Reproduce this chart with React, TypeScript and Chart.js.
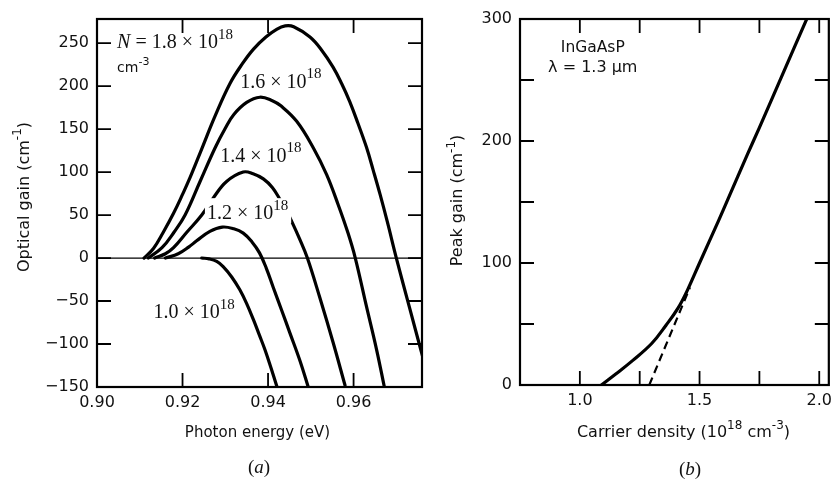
import React, { useEffect, useRef } from "react";
import { Chart, registerables } from "chart.js";

Chart.register(...registerables);
Chart.defaults.font.family = "'DejaVu Sans', 'Liberation Sans', sans-serif";

// ---------- Panel (a): optical gain vs photon energy ----------
const energy18 = [0.9110, 0.9132, 0.9155, 0.9179, 0.9200, 0.9218, 0.9245, 0.9276, 0.9311, 0.9340, 0.9366, 0.9395, 0.9420, 0.9440, 0.9460, 0.9498, 0.9525, 0.9552, 0.9572, 0.9591, 0.9610, 0.9630, 0.9646, 0.9662, 0.9679, 0.9700, 0.9731, 0.9759, 0.9765];
const gain18 = [0, 11, 30, 52, 74, 94, 127, 165, 203, 226, 243, 257, 266, 270, 269, 257, 242, 222, 203, 182, 157, 129, 102, 74, 42, 0, -58, -110, -121];

const energy16 = [0.9120, 0.9152, 0.9180, 0.9206, 0.9241, 0.9276, 0.9300, 0.9320, 0.9350, 0.9381, 0.9410, 0.9430, 0.9467, 0.9506, 0.9537, 0.9564, 0.9587, 0.9604, 0.9630, 0.9654, 0.9672];
const gain16 = [0, 12, 30, 50, 89, 128, 151, 167, 181, 187, 183, 177, 159, 128, 97, 62, 29, 0, -56, -107, -150];

const energy14 = [0.9135, 0.9160, 0.9179, 0.9210, 0.9245, 0.9272, 0.9303, 0.9342, 0.9365, 0.9389, 0.9410, 0.9428, 0.9441, 0.9455, 0.9474, 0.9492, 0.9521, 0.9552, 0.9580];
const gain14 = [0, 5, 12, 30, 50, 70, 89, 100, 98, 92, 82, 68, 57, 43, 22, 0, -46, -98, -148];

const energy12 = [0.9160, 0.9190, 0.9215, 0.9233, 0.9264, 0.9293, 0.9320, 0.9342, 0.9362, 0.9380, 0.9396, 0.9412, 0.9432, 0.9451, 0.9475, 0.9494];
const gain12 = [0, 5, 13, 20, 31, 36, 34, 29, 19, 6, -12, -34, -61, -87, -120, -150];

const energy10 = [0.9245, 0.9262, 0.9280, 0.9295, 0.9315, 0.9334, 0.9350, 0.9366, 0.9380, 0.9393, 0.9407, 0.9421];
const gain10 = [0, -1, -4, -10, -22, -37, -53, -72, -90, -107, -128, -150];

const zeroLineEnergy = [0.9, 0.976];
const zeroLineGain = [0, 0];

const densityLabels = ["1.8", "1.6", "1.4", "1.2", "1.0"];
// label anchor in data coordinates (left edge, vertical centre)
const densityLabelAnchors = [
  [0.9047, 250],
  [0.9335, 204],
  [0.9288, 118],
  [0.9257, 51],
  [0.9132, -64],
];
// the 1.2 label is typeset over (and interrupts) the 1.4 curve
const densityLabelMasks = [false, false, false, true, false];

// ---------- Panel (b): peak gain vs carrier density ----------
const densitySolid = [1.09, 1.15, 1.22, 1.30, 1.36, 1.41, 1.45, 1.50, 1.58, 1.62, 1.70, 1.75, 1.85, 1.95];
const peakGainSolid = [0, 9, 20, 34, 49, 63, 78, 100, 135, 153, 189, 211, 256, 301];
const densityDashed = [1.29, 1.46];
const peakGainDashed = [0, 80];

type Part = { t: string; sup?: boolean; it?: boolean };

const SANS = "'DejaVu Sans', 'Liberation Sans', sans-serif";
const SERIF = "'Liberation Serif', 'Times New Roman', serif";

function drawRich(
  ctx: CanvasRenderingContext2D,
  parts: Part[],
  x: number,
  y: number,
  size: number,
  family: string,
  align: "left" | "center",
  bg = false
) {
  const fontFor = (p: Part) =>
    `${p.it ? "italic " : ""}${p.sup ? Math.round(size * 0.75) : size}px ${family}`;
  let total = 0;
  const widths = parts.map((p) => {
    ctx.font = fontFor(p);
    const w = ctx.measureText(p.t).width;
    total += w;
    return w;
  });
  let cx = align === "center" ? x - total / 2 : x;
  if (bg) {
    ctx.fillStyle = "#fff";
    ctx.fillRect(cx - 2, y - size * 0.8, total + 5, size * 1.25);
  }
  ctx.fillStyle = "#111";
  ctx.textBaseline = "middle";
  ctx.textAlign = "left";
  parts.forEach((p, i) => {
    ctx.font = fontFor(p);
    ctx.fillText(p.t, cx, p.sup ? y - size * 0.42 : y);
    cx += widths[i];
  });
}

const frameTicksPlugin = {
  id: "frameTicks",
  afterDatasetsDraw(chart: any) {
    const { ctx, chartArea: ca, scales } = chart;
    const L = 14;
    ctx.save();
    ctx.strokeStyle = "#000";
    ctx.lineWidth = 1.8;
    ctx.beginPath();
    scales.x.ticks.forEach((t: any) => {
      const p = scales.x.getPixelForValue(t.value);
      if (p < ca.left + 2 || p > ca.right - 2) return;
      ctx.moveTo(p, ca.bottom);
      ctx.lineTo(p, ca.bottom - L);
      ctx.moveTo(p, ca.top);
      ctx.lineTo(p, ca.top + L);
    });
    scales.y.ticks.forEach((t: any) => {
      const p = scales.y.getPixelForValue(t.value);
      if (p < ca.top + 2 || p > ca.bottom - 2) return;
      ctx.moveTo(ca.left, p);
      ctx.lineTo(ca.left + L, p);
      ctx.moveTo(ca.right, p);
      ctx.lineTo(ca.right - L, p);
    });
    ctx.stroke();
    ctx.lineWidth = 2.2;
    ctx.strokeRect(ca.left, ca.top, ca.right - ca.left, ca.bottom - ca.top);
    ctx.restore();
  },
};

const textPluginA = {
  id: "textA",
  afterDatasetsDraw(chart: any) {
    const { ctx, scales } = chart;
    const xs = scales.x;
    const ys = scales.y;
    ctx.save();
    densityLabels.forEach((d, i) => {
      const [vx, vy] = densityLabelAnchors[i];
      const parts: Part[] =
        i === 0
          ? [{ t: "N", it: true }, { t: ` = ${d} × 10` }, { t: "18", sup: true }]
          : [{ t: `${d} × 10` }, { t: "18", sup: true }];
      drawRich(ctx, parts, xs.getPixelForValue(vx), ys.getPixelForValue(vy), 20, SERIF, "left", densityLabelMasks[i]);
    });
    drawRich(
      ctx,
      [{ t: "cm" }, { t: "-3", sup: true }],
      xs.getPixelForValue(0.9047),
      ys.getPixelForValue(221),
      14,
      SANS,
      "left"
    );
    // axis titles
    ctx.save();
    ctx.translate(25, 197);
    ctx.rotate(-Math.PI / 2);
    drawRich(ctx, [{ t: "Optical gain (cm" }, { t: "-1", sup: true }, { t: ")" }], 0, 0, 16, SANS, "center");
    ctx.restore();
    drawRich(ctx, [{ t: "Photon energy (eV)" }], 257.5, 433, 15, SANS, "center");
    drawRich(ctx, [{ t: "(" }, { t: "a", it: true }, { t: ")" }], 259, 468, 19, SERIF, "center");
    ctx.restore();
  },
};

const textPluginB = {
  id: "textB",
  afterDatasetsDraw(chart: any) {
    const { ctx, scales } = chart;
    const xs = scales.x;
    const ys = scales.y;
    ctx.save();
    drawRich(ctx, [{ t: "InGaAsP" }], xs.getPixelForValue(1.054), ys.getPixelForValue(276), 15.5, SANS, "center");
    drawRich(ctx, [{ t: "λ = 1.3 μm" }], xs.getPixelForValue(1.054), ys.getPixelForValue(260), 16, SANS, "center");
    ctx.save();
    ctx.translate(28.3, 200.5);
    ctx.rotate(-Math.PI / 2);
    drawRich(ctx, [{ t: "Peak gain (cm" }, { t: "-1", sup: true }, { t: ")" }], 0, 0, 16, SANS, "center");
    ctx.restore();
    drawRich(
      ctx,
      [{ t: "Carrier density (10" }, { t: "18", sup: true }, { t: " cm" }, { t: "-3", sup: true }, { t: ")" }],
      253.5,
      433,
      16,
      SANS,
      "center"
    );
    drawRich(ctx, [{ t: "(" }, { t: "b", it: true }, { t: ")" }], 260, 470, 19, SERIF, "center");
    ctx.restore();
  },
};

const pts = (xs: number[], ys: number[]) => xs.map((x, i) => ({ x, y: ys[i] }));

const curve = (xs: number[], ys: number[], extra: any = {}) => ({
  data: pts(xs, ys),
  borderColor: "#000",
  borderWidth: 3.2,
  pointRadius: 0,
  fill: false,
  tension: 0.4,
  borderJoinStyle: "round",
  borderCapStyle: "round",
  ...extra,
});

const tickFont = { size: 16, family: SANS };

export default function App() {
  const refA = useRef<HTMLCanvasElement>(null);
  const refB = useRef<HTMLCanvasElement>(null);

  useEffect(() => {
    const chartA = new Chart(refA.current as HTMLCanvasElement, {
      type: "line",
      data: {
        datasets: [
          curve(zeroLineEnergy, zeroLineGain, { borderWidth: 1.3, tension: 0, borderCapStyle: "butt" }),
          curve(energy10, gain10),
          curve(energy12, gain12),
          curve(energy14, gain14),
          curve(energy16, gain16),
          curve(energy18, gain18),
        ] as any,
      },
      options: {
        animation: false,
        responsive: false,
        devicePixelRatio: 1,
        layout: { padding: { left: 0, top: 19, right: 8, bottom: 0 } },
        plugins: { legend: { display: false }, tooltip: { enabled: false } },
        scales: {
          x: {
            type: "linear",
            min: 0.9,
            max: 0.976,
            afterFit: (s: any) => {
              s.height = 92;
            },
            grid: { display: false, drawTicks: false },
            border: { display: false },
            ticks: {
              stepSize: 0.02,
              includeBounds: false,
              padding: 6,
              color: "#111",
              font: tickFont,
              maxRotation: 0,
              autoSkip: false,
              callback: (v: any) => Number(v).toFixed(2),
            },
          },
          y: {
            type: "linear",
            min: -150,
            max: 278,
            afterFit: (s: any) => {
              s.width = 97;
            },
            grid: { display: false, drawTicks: false },
            border: { display: false },
            ticks: {
              stepSize: 50,
              includeBounds: false,
              padding: 8,
              color: "#111",
              font: tickFont,
              autoSkip: false,
              callback: (v: any) => (Number(v) < 0 ? "−" + Math.abs(Number(v)) : String(v)),
            },
          },
        },
      } as any,
      plugins: [frameTicksPlugin, textPluginA],
    });

    const chartB = new Chart(refB.current as HTMLCanvasElement, {
      type: "line",
      data: {
        datasets: [
          curve(densityDashed, peakGainDashed, { borderWidth: 2.2, borderDash: [8, 5], tension: 0, borderCapStyle: "butt" }),
          curve(densitySolid, peakGainSolid),
        ] as any,
      },
      options: {
        animation: false,
        responsive: false,
        devicePixelRatio: 1,
        layout: { padding: { left: 0, top: 19, right: 1, bottom: 0 } },
        plugins: { legend: { display: false }, tooltip: { enabled: false } },
        scales: {
          x: {
            type: "linear",
            min: 0.75,
            max: 2.04,
            afterFit: (s: any) => {
              s.height = 94;
            },
            grid: { display: false, drawTicks: false },
            border: { display: false },
            ticks: {
              stepSize: 0.25,
              includeBounds: false,
              padding: 6,
              color: "#111",
              font: tickFont,
              maxRotation: 0,
              autoSkip: false,
              callback: (v: any) => {
                const n = Number(v);
                return Math.abs(n * 2 - Math.round(n * 2)) < 1e-6 ? n.toFixed(1) : "";
              },
            },
          },
          y: {
            type: "linear",
            min: 0,
            max: 300,
            afterFit: (s: any) => {
              s.width = 90;
            },
            grid: { display: false, drawTicks: false },
            border: { display: false },
            ticks: {
              stepSize: 50,
              padding: 8,
              color: "#111",
              font: tickFont,
              autoSkip: false,
              callback: (v: any) => (Number(v) % 100 === 0 ? String(v) : ""),
            },
          },
        },
      } as any,
      plugins: [frameTicksPlugin, textPluginB],
    });

    return () => {
      chartA.destroy();
      chartB.destroy();
    };
  }, []);

  return (
    <div style={{ position: "absolute", left: 0, top: 0, width: 838, height: 479, background: "#fff" }}>
      <canvas
        ref={refA}
        width={430}
        height={479}
        style={{ position: "absolute", left: 0, top: 0, width: 430, height: 479 }}
      />
      <canvas
        ref={refB}
        width={408}
        height={479}
        style={{ position: "absolute", left: 430, top: 0, width: 408, height: 479 }}
      />
    </div>
  );
}
